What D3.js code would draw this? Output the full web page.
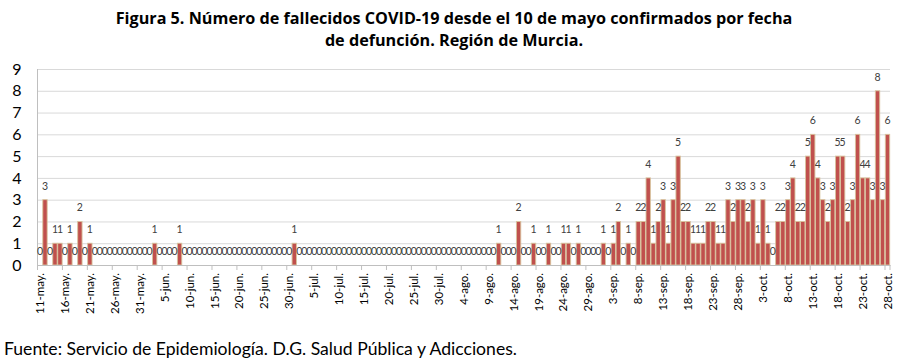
<!DOCTYPE html>
<html><head><meta charset="utf-8">
<script src="https://cdn.jsdelivr.net/npm/d3@7"></script>
<style>body{margin:0;background:#fff} svg{display:block}</style>
</head><body><svg id="c" width="900" height="360"></svg>
<script>
const titleLines = ["Figura 5. Número de fallecidos COVID-19 desde el 10 de mayo confirmados por fecha", "de defunción. Región de Murcia."];
const sourceNote = "Fuente: Servicio de Epidemiología. D.G. Salud Pública y Adicciones.";
const monthAbbr = ["ene","feb","mar","abr","may","jun","jul","ago","sep","oct","nov","dic"];
// one category per day, 11 May -> 28 Oct
const categories = d3.utcDay.range(new Date(Date.UTC(2020,4,11)), new Date(Date.UTC(2020,9,29)))
  .map(d => `${d.getUTCDate()}-${monthAbbr[d.getUTCMonth()]}.`);
const values = [
  0,3,0,1,1,0,1,0,2,0,
  1,0,0,0,0,0,0,0,0,0,
  0,0,0,1,0,0,0,0,1,0,
  0,0,0,0,0,0,0,0,0,0,
  0,0,0,0,0,0,0,0,0,0,
  0,1,0,0,0,0,0,0,0,0,
  0,0,0,0,0,0,0,0,0,0,
  0,0,0,0,0,0,0,0,0,0,
  0,0,0,0,0,0,0,0,0,0,
  0,0,1,0,0,0,2,0,0,1,
  0,0,1,0,0,1,1,0,1,0,
  0,0,0,1,0,1,2,0,1,0,
  2,2,4,1,2,3,1,3,5,2,
  2,1,1,1,2,2,1,1,3,2,
  3,3,2,3,1,3,1,0,2,2,
  3,4,2,2,5,6,4,3,2,3,
  5,5,2,3,6,4,4,3,8,3,
  6
];
const tickLabels = ["11-may.","16-may.","21-may.","26-may.","31-may.","5-jun.","10-jun.","15-jun.","20-jun.","25-jun.","30-jun.",
  "5-jul.","10-jul.","15-jul.","20-jul.","25-jul.","30-jul.","4-ago.","9-ago.","14-ago.","19-ago.","24-ago.","29-ago.",
  "3-sep.","8-sep.","13-sep.","18-sep.","23-sep.","28-sep.","3-oct.","8-oct.","13-oct.","18-oct.","23-oct.","28-oct."];
const yTicks = [0,1,2,3,4,5,6,7,8,9];

const data = categories.map((c, i) => ({cat: c, v: values[i]}));

const svg = d3.select("#c");
svg.append("rect").attr("width", 900).attr("height", 360).attr("fill", "#fff");

const plotL = 37.5, plotR = 890, plotB = 265, plotT = 69;
const x = d3.scaleBand().domain(categories).range([plotL, plotR]).paddingInner(0.12).paddingOuter(0.06);
const y = d3.scaleLinear().domain([0, 9]).range([plotB, plotT]);

// y axis + gridlines
const gy = svg.append("g").attr("transform", `translate(${plotL},0)`)
  .call(d3.axisLeft(y).tickValues(yTicks).tickSize(-(plotR - plotL)).tickPadding(16).tickFormat(d3.format("d")));
gy.select(".domain").remove();
gy.selectAll(".tick line").attr("stroke", "#d9d9d9").attr("stroke-width", 1)
  .filter(d => d === 0).remove();
gy.selectAll(".tick text").attr("font-family", "Lato, sans-serif").attr("font-size", 16).attr("fill", "#000");

// bars
svg.append("g").selectAll("rect").data(data.filter(d => d.v > 0)).join("rect")
  .attr("x", d => x(d.cat)).attr("width", x.bandwidth())
  .attr("y", d => y(d.v)).attr("height", d => y(0) - y(d.v))
  .attr("fill", "#c0504d").attr("stroke", "#d8c49e").attr("stroke-width", 0.9);

// axis lines
svg.append("line").attr("x1", plotL).attr("x2", plotL).attr("y1", plotT).attr("y2", plotB)
  .attr("stroke", "#bfbfbf");
const gx = svg.append("g").attr("transform", `translate(0,${plotB})`)
  .call(d3.axisBottom(x).tickValues(tickLabels).tickSize(0));
gx.select(".domain").attr("stroke", "#bfbfbf");
gx.selectAll(".tick text")
  .attr("font-family", "Lato, sans-serif").attr("font-size", 11.5).attr("fill", "#000")
  .attr("text-anchor", "end").attr("transform", "rotate(-90)")
  .attr("x", -8).attr("y", 0).attr("dy", "0.35em");
// boundary tick marks every 5 categories
const step = x.step();
const boundaries = d3.range(0, categories.length + 1, 5).concat([categories.length]);
svg.append("g").selectAll("line").data(boundaries).join("line")
  .attr("x1", b => plotL + b * step).attr("x2", b => plotL + b * step)
  .attr("y1", plotB).attr("y2", plotB + 5).attr("stroke", "#bfbfbf");

// value labels
svg.append("g").selectAll("text").data(data).join("text")
  .attr("x", d => x(d.cat) + x.bandwidth() / 2).attr("y", d => y(d.v) - 10)
  .attr("text-anchor", "middle").attr("font-family", "Lato, sans-serif").attr("font-size", 10.5)
  .attr("fill", "#404040").text(d => d.v);

// title
svg.append("g").selectAll("text").data(titleLines).join("text")
  .attr("x", 454).attr("y", (d, i) => 24 + i * 22).attr("text-anchor", "middle")
  .attr("font-family", "'Open Sans', sans-serif").attr("font-weight", "bold").attr("font-size", 16.2)
  .attr("fill", "#000").text(d => d);

// source
svg.append("text").attr("x", 4).attr("y", 355)
  .attr("font-family", "Lato, sans-serif").attr("font-size", 17.6).attr("fill", "#000").text(sourceNote);
</script></body></html>
